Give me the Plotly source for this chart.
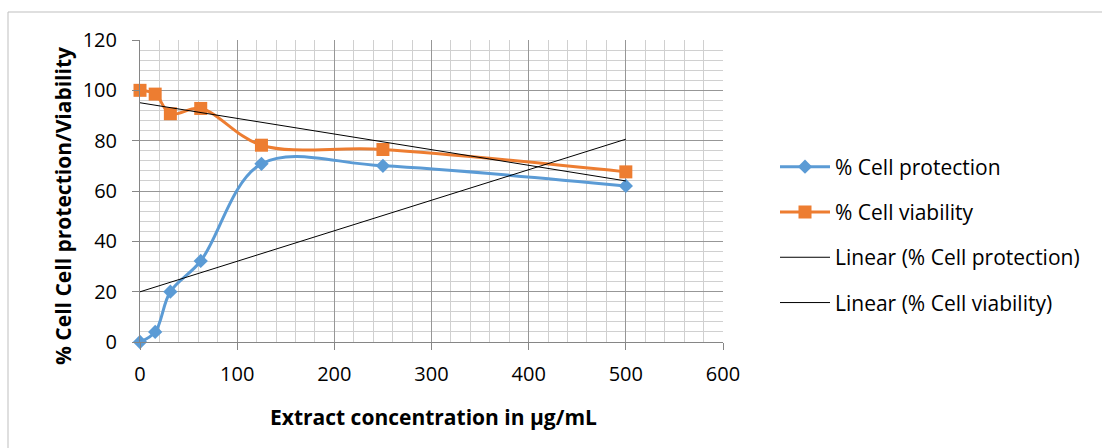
import numpy as np
import plotly.graph_objects as go

# ---- data ----
concentration = [0, 15.625, 31.25, 62.5, 125, 250, 500]
cell_protection = [0, 4, 20, 32.2, 70.8, 70, 62]
cell_viability = [100, 98.5, 90.7, 92.8, 78.2, 76.5, 67.6]
x_ticks = [0, 100, 200, 300, 400, 500, 600]
y_ticks = [0, 20, 40, 60, 80, 100, 120]

W, H = 1102, 448
L, R, T, B = 140, 723, 40, 342  # plot area in px

def px_x(p):
    return (p - L) / (R - L)

def px_y(p):
    return (B - p) / (B - T)

FONT = "Open Sans"
BLUE = "#5B9BD5"
ORANGE = "#ED7D31"

# linear trend lines (least-squares fit of the series)
xfit = np.array([min(concentration), max(concentration)])
pp = np.polyfit(concentration, cell_protection, 1)
pv = np.polyfit(concentration, cell_viability, 1)

fig = go.Figure()
fig.add_trace(go.Scatter(
    x=concentration, y=cell_protection, name="% Cell protection",
    mode="lines+markers", line=dict(color=BLUE, width=3, shape="spline", smoothing=1),
    marker=dict(symbol="diamond", size=11, color=BLUE), legendgroup="a", cliponaxis=False))
fig.add_trace(go.Scatter(
    x=concentration, y=cell_viability, name="% Cell viability",
    mode="lines+markers", line=dict(color=ORANGE, width=3, shape="spline", smoothing=1),
    marker=dict(symbol="square", size=13, color=ORANGE), legendgroup="b", cliponaxis=False))
fig.add_trace(go.Scatter(
    x=xfit, y=np.polyval(pp, xfit), name="Linear (% Cell protection)",
    mode="lines", line=dict(color="#000000", width=1), legendgroup="c"))
fig.add_trace(go.Scatter(
    x=xfit, y=np.polyval(pv, xfit), name="Linear (% Cell viability)",
    mode="lines", line=dict(color="#000000", width=1), legendgroup="d"))

axis_common = dict(
    showgrid=True, gridcolor="#979797", gridwidth=1,
    showline=True, linecolor="#868686", linewidth=1,
    ticks="outside", ticklen=7, tickcolor="#868686",
    tickfont=dict(family=FONT, size=20, color="#000000"),
    zeroline=False, fixedrange=True,
)

fig.update_xaxes(range=[0, 600], tickvals=x_ticks, ticktext=[str(v) for v in x_ticks],
                 minor=dict(dtick=20, showgrid=True, gridcolor="#d0d0d0", gridwidth=1),
                 ticklabelstandoff=7, **axis_common)
fig.update_yaxes(range=[0, 120], tickvals=y_ticks, ticktext=[str(v) for v in y_ticks],
                 minor=dict(dtick=4, showgrid=True, gridcolor="#d0d0d0", gridwidth=1),
                 ticklabelstandoff=11, **axis_common)

fig.update_layout(
    width=W, height=H,
    margin=dict(l=L, r=W - R, t=T, b=H - B, pad=0),
    paper_bgcolor="white", plot_bgcolor="white",
    font=dict(family=FONT, color="#000000"),
    showlegend=True,
    legend=dict(x=px_x(775), y=px_y(235), xanchor="left", yanchor="middle",
                font=dict(family=FONT, size=21, color="#000000"),
                traceorder="grouped", tracegroupgap=15,
                itemwidth=50, bgcolor="rgba(0,0,0,0)"),
    annotations=[
        dict(text="<b>Extract concentration in µg/mL</b>", xref="paper", yref="paper",
             x=px_x(433), y=px_y(417), xanchor="center", yanchor="middle",
             showarrow=False, font=dict(family=FONT, size=21, color="#000000")),
        dict(text="<b>% Cell Cell protection/Viability</b>", xref="paper", yref="paper",
             x=px_x(63), y=px_y(206), xanchor="center", yanchor="middle", textangle=-90,
             showarrow=False, font=dict(family=FONT, size=21, color="#000000")),
    ],
    shapes=[
        dict(type="rect", xref="paper", yref="paper",
             x0=px_x(8), y0=px_y(12), x1=px_x(1110), y1=px_y(460),
             line=dict(color="#bfbfbf", width=1), layer="below"),
    ],
)

fig.write_html("out.html")
